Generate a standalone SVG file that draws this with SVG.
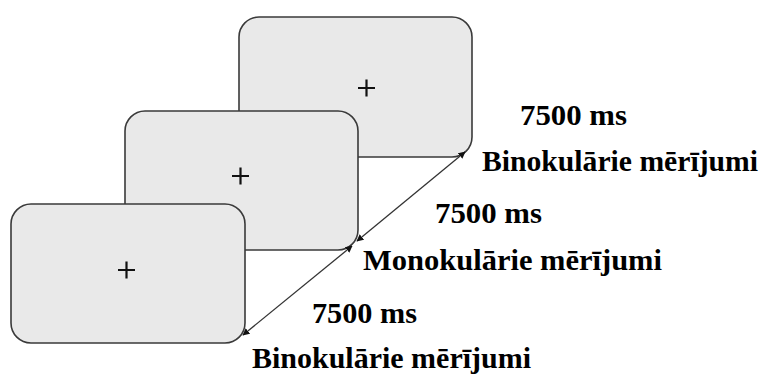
<svg xmlns="http://www.w3.org/2000/svg" width="768" height="375" viewBox="0 0 768 375">
  <defs>
    <style>
      .screen { fill: #e9e9e9; stroke: #3a3a3a; stroke-width: 1.6; }
      .fix { stroke: #111; stroke-width: 2.2; fill: none; }
      .link { stroke: #333; stroke-width: 1.3; fill: none; marker-start: url(#tip); marker-end: url(#tip); }
      .lbl { font-family: "Liberation Serif", "Times New Roman", serif; font-weight: bold; font-size: 30px; fill: #000; }
    </style>
    <marker id="tip" viewBox="0 0 10 10" refX="9" refY="5" markerWidth="7" markerHeight="7" markerUnits="userSpaceOnUse" orient="auto-start-reverse">
      <path d="M0,0 L10,5 L0,10 z" fill="#111"/>
    </marker>
  </defs>
  <rect width="768" height="375" fill="#fff"/>

  <!-- stacked stimulus screens, back to front -->
  <g id="screen3">
    <rect class="screen" x="239" y="17" width="233" height="140" rx="20" ry="20"/>
    <path class="fix" d="M358,88 H375 M366.5,79.5 V96.5"/>
  </g>
  <g id="screen2">
    <rect class="screen" x="125" y="111" width="233" height="139" rx="20" ry="20"/>
    <path class="fix" d="M232,176 H249 M240.5,167.5 V184.5"/>
  </g>
  <g id="screen1">
    <rect class="screen" x="11" y="204" width="234" height="139" rx="20" ry="20"/>
    <path class="fix" d="M118,270 H135 M126.5,261.5 V278.5"/>
  </g>

  <!-- timeline connectors between screen corners -->
  <g id="connectors">
    <line class="link" x1="243" y1="335" x2="352" y2="246"/>
    <line class="link" x1="357" y1="241" x2="465" y2="152"/>
  </g>

  <!-- durations and conditions -->
  <g id="labels">
    <text class="lbl" x="520" y="125" textLength="107" lengthAdjust="spacingAndGlyphs">7500 ms</text>
    <text class="lbl" x="482" y="171" textLength="276" lengthAdjust="spacingAndGlyphs">Binokulārie mērījumi</text>
    <text class="lbl" x="435" y="223" textLength="107" lengthAdjust="spacingAndGlyphs">7500 ms</text>
    <text class="lbl" x="363" y="270" textLength="299" lengthAdjust="spacingAndGlyphs">Monokulārie mērījumi</text>
    <text class="lbl" x="312" y="323" textLength="105" lengthAdjust="spacingAndGlyphs">7500 ms</text>
    <text class="lbl" x="252" y="368" textLength="279" lengthAdjust="spacingAndGlyphs">Binokulārie mērījumi</text>
  </g>
</svg>
